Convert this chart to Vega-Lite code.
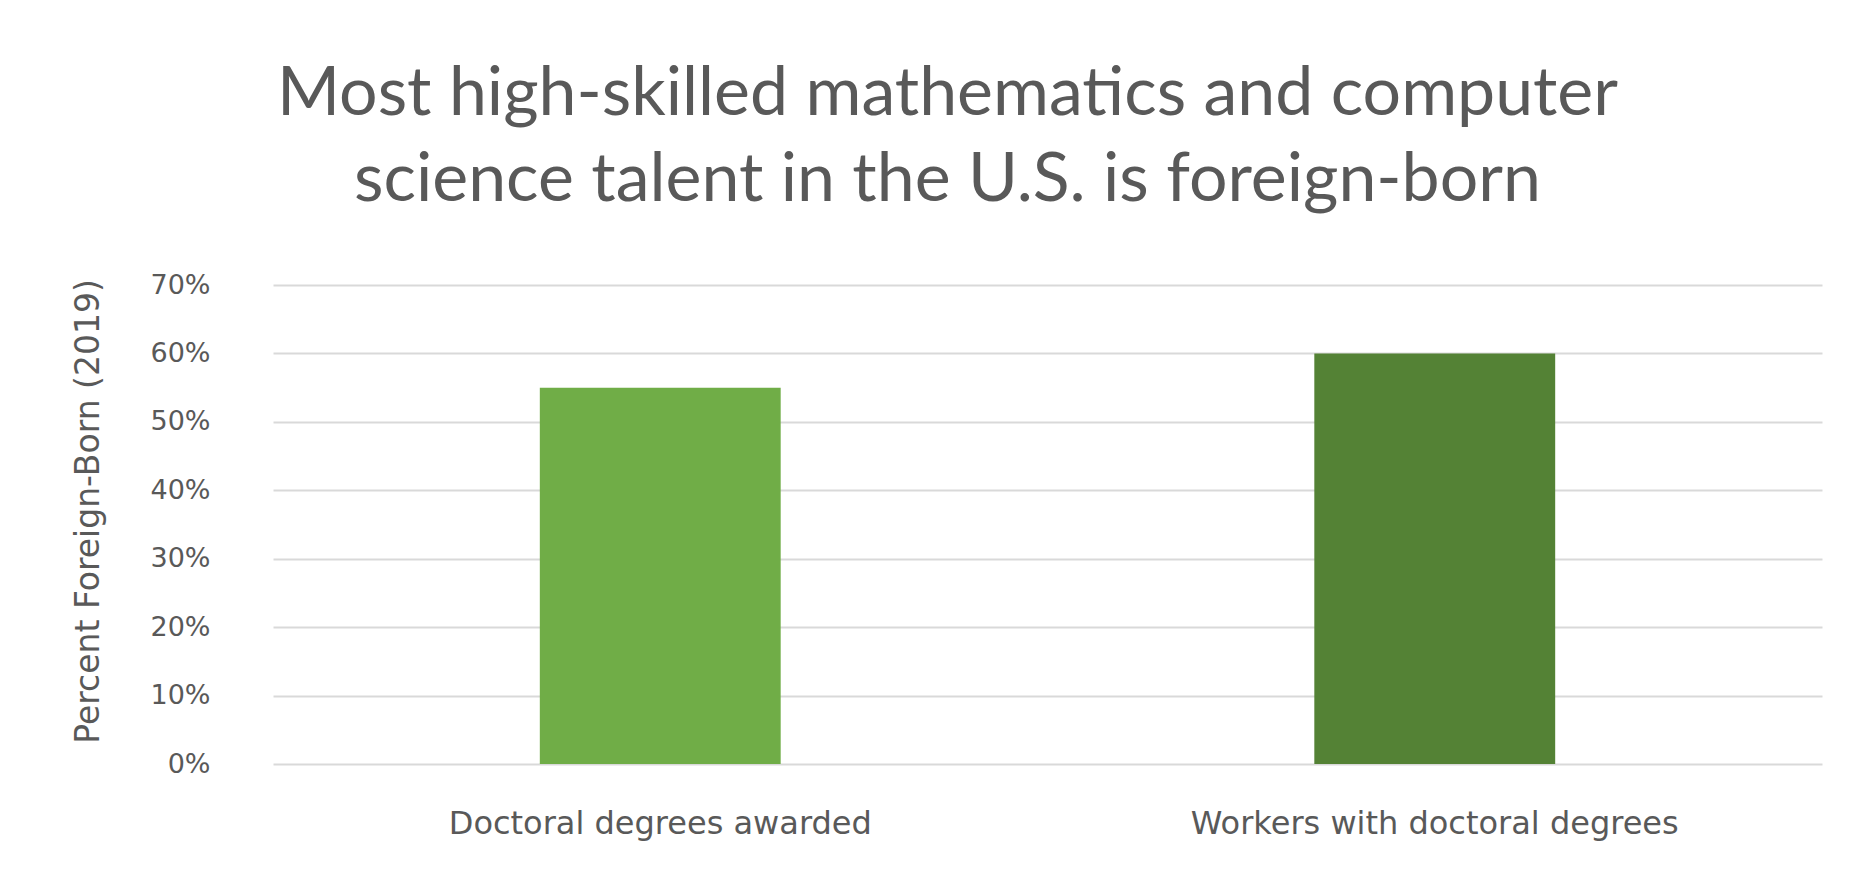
{
  "$schema": "https://vega.github.io/schema/vega-lite/v6.json",
  "autosize": "none",
  "width": 1549,
  "height": 479,
  "padding": {"left": 273, "top": 285, "right": 43, "bottom": 113},
  "background": "white",
  "title": {
    "text": ["Most high-skilled mathematics and computer", "science talent in the U.S. is foreign-born"],
    "font": "Lato",
    "fontSize": 68,
    "fontWeight": "normal",
    "color": "#595959",
    "lineHeight": 86,
    "anchor": "middle",
    "frame": "bounds",
    "offset": 56
  },
  "data": {
    "values": [
      {"category": "Doctoral degrees awarded", "value": 0.55},
      {"category": "Workers with doctoral degrees", "value": 0.60}
    ]
  },
  "mark": {"type": "bar"},
  "encoding": {
    "x": {
      "field": "category",
      "type": "nominal",
      "sort": null,
      "scale": {"paddingInner": 0.689, "paddingOuter": 0.3445},
      "axis": {
        "title": null,
        "labelAngle": 0,
        "labelFont": "DejaVu Sans",
        "labelFontSize": 32,
        "labelColor": "#595959",
        "labelPadding": 44,
        "labelLimit": 0,
        "ticks": false,
        "domain": false
      }
    },
    "y": {
      "field": "value",
      "type": "quantitative",
      "scale": {"domain": [0, 0.7], "nice": false},
      "axis": {
        "title": "Percent Foreign-Born (2019)",
        "titleFont": "DejaVu Sans",
        "titleFontSize": 33,
        "titleFontWeight": "normal",
        "titleColor": "#595959",
        "titlePadding": 44,
        "titleY": 226,
        "format": ".0%",
        "values": [0, 0.1, 0.2, 0.3, 0.4, 0.5, 0.6, 0.7],
        "labelFont": "DejaVu Sans",
        "labelFontSize": 27,
        "labelColor": "#595959",
        "labelPadding": 63,
        "ticks": false,
        "domain": false,
        "grid": true,
        "gridColor": "#D9D9D9",
        "gridWidth": 2
      }
    },
    "color": {
      "field": "category",
      "type": "nominal",
      "scale": {"domain": ["Doctoral degrees awarded", "Workers with doctoral degrees"], "range": ["#70AD47", "#548235"]},
      "legend": null
    }
  },
  "config": {
    "view": {"stroke": null}
  }
}
